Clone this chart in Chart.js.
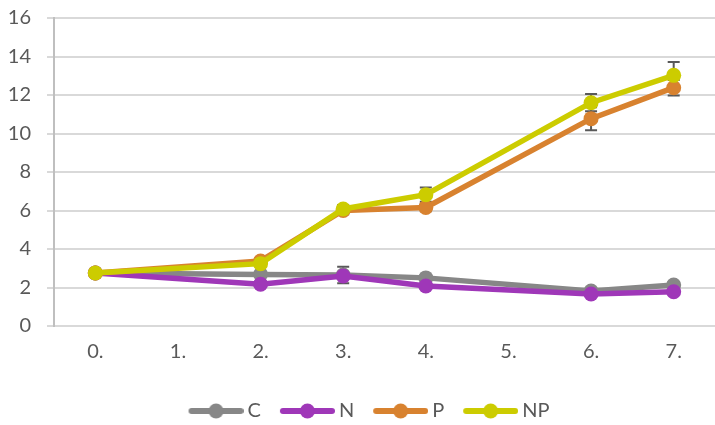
<!DOCTYPE html>
<html>
<head>
<meta charset="utf-8">
<script src="https://cdn.jsdelivr.net/npm/chart.js@4.4.1/dist/chart.umd.min.js"></script>
<style>
  html, body { margin: 0; padding: 0; background: #fff; }
  #wrap { width: 715px; height: 425px; }
</style>
</head>
<body>
<div id="wrap"><canvas id="lineChart"></canvas></div>
<script>
// donnees du graphique
const labels = ['0.', '1.', '2.', '3.', '4.', '5.', '6.', '7.'];
const seriesNames = ['C', 'N', 'P', 'NP'];
const valC  = [2.75, null, 2.68, 2.65, 2.5, null, 1.82, 2.13];
const valN  = [2.75, null, 2.17, 2.6, 2.08, null, 1.66, 1.78];
const valP  = [2.75, null, 3.38, 6.0, 6.16, null, 10.77, 12.38];
const valNP = [2.75, null, 3.24, 6.08, 6.82, null, 11.6, 13.02];
// barres d'erreur (+/-)
const errC  = [0.1, null, 0.1, 0.43, 0.15, null, 0.1, 0.15];
const errN  = [0.1, null, 0.15, 0.15, 0.15, null, 0.1, 0.1];
const errP  = [0.1, null, 0.15, 0.2, 0.2, null, 0.6, 0.4];
const errNP = [0.1, null, 0.15, 0.2, 0.37, null, 0.45, 0.7];
const yTicks = [0, 2, 4, 6, 8, 10, 12, 14, 16];

const colors = ['#878787', '#9F37B8', '#D8822F', '#CCCC00'];
const allValues = [valC, valN, valP, valNP];
const allErrors = [errC, errN, errP, errNP];

// petite image pour la legende (ligne + rond), decalee a droite de la boite
function legendIcon(color) {
    const c = document.createElement('canvas');
    c.width = 76;
    c.height = 18;
    const g = c.getContext('2d');
    g.strokeStyle = color;
    g.lineWidth = 6;
    g.lineCap = 'round';
    g.beginPath();
    g.moveTo(24, 9);
    g.lineTo(73, 9);
    g.stroke();
    g.fillStyle = color;
    g.beginPath();
    g.arc(48.5, 9, 7.5, 0, Math.PI * 2);
    g.fill();
    return c;
}

// barres d'erreur dessinees avant les series
const errorBars = {
    id: 'errorBars',
    beforeDatasetsDraw(chart) {
        const ctx = chart.ctx;
        const y = chart.scales.y;
        ctx.save();
        ctx.strokeStyle = '#595959';
        ctx.lineWidth = 2;
        allErrors.forEach((errs, i) => {
            const meta = chart.getDatasetMeta(i);
            errs.forEach((e, j) => {
                const v = allValues[i][j];
                if (e == null || v == null) return;
                const x = meta.data[j].x;
                const top = y.getPixelForValue(v + e);
                const bot = y.getPixelForValue(v - e);
                ctx.beginPath();
                ctx.moveTo(x, top); ctx.lineTo(x, bot);
                ctx.moveTo(x - 6, top); ctx.lineTo(x + 6, top);
                ctx.moveTo(x - 6, bot); ctx.lineTo(x + 6, bot);
                ctx.stroke();
            });
        });
        ctx.restore();
    }
};

const ctx = document.getElementById('lineChart');
const chart = new Chart(ctx, {
    type: 'line',
    data: {
        labels: labels,
        datasets: seriesNames.map((name, i) => ({
            label: name,
            data: allValues[i],
            borderColor: colors[i],
            backgroundColor: colors[i],
            borderWidth: 5.5,
            pointRadius: 7.5,
            pointHoverRadius: 7.5,
            pointBorderWidth: 0,
            spanGaps: true,
            order: 4 - i,
            pointStyle: 'circle',
            legendIcon: legendIcon(colors[i])
        }))
    },
    options: {
        responsive: true,
        maintainAspectRatio: false,
        animation: false,
        layout: { autoPadding: false, padding: { left: 8, right: 0, top: 6, bottom: -6 } },
        plugins: {
            tooltip: { enabled: false },
            legend: {
                position: 'bottom',
                labels: {
                    usePointStyle: true,
                    pointStyleWidth: 64,
                    padding: 4,
                    color: '#595959',
                    font: { family: 'Lato', size: 20 },
                    sort: (a, b) => a.datasetIndex - b.datasetIndex,
                    generateLabels(chart) {
                        return chart.data.datasets.map((ds, i) => ({
                            text: ds.label,
                            fillStyle: ds.borderColor,
                            strokeStyle: ds.borderColor,
                            fontColor: '#595959',
                            lineWidth: 0,
                            pointStyle: ds.legendIcon,
                            datasetIndex: i,
                            hidden: false
                        }));
                    }
                }
            }
        },
        scales: {
            x: {
                offset: true,
                grid: { display: false, drawTicks: false },
                border: { color: '#D9D9D9', width: 2 },
                ticks: {
                    color: '#595959',
                    font: { family: 'Lato', size: 20 },
                    padding: 14,
                    maxRotation: 0
                },
                afterFit(axis) {
                    axis.height = 71;
                    axis.paddingLeft = 0;
                    axis.paddingRight = 0;
                }
            },
            y: {
                min: 0,
                max: 16,
                afterBuildTicks(axis) {
                    axis.ticks = yTicks.map(v => ({ value: v }));
                },
                afterFit(axis) {
                    axis.width = 46;
                    axis.paddingTop = 18;
                    axis.paddingBottom = 12;
                },
                grid: { color: '#D9D9D9', lineWidth: 2, tickLength: 7 },
                border: { color: '#BFBFBF', width: 2 },
                ticks: {
                    color: '#595959',
                    font: { family: 'Lato', size: 20 },
                    padding: 16
                }
            }
        }
    },
    plugins: [errorBars]
});
</script>
</body>
</html>
